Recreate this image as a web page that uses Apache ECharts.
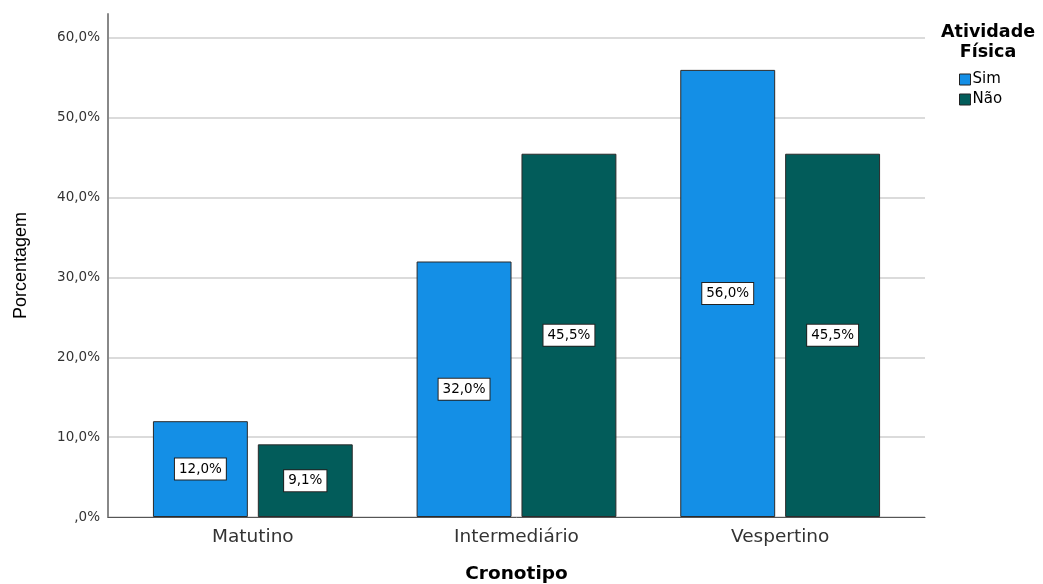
<!DOCTYPE html>
<html>
<head>
<meta charset="utf-8">
<script src="https://cdn.jsdelivr.net/npm/echarts@6/dist/echarts.min.js"></script>
<style>html,body{margin:0;padding:0;background:#fff}#c{width:1043px;height:584px}</style>
</head>
<body>
<div id="c"></div>
<script>
const categories = ['Matutino', 'Intermediário', 'Vespertino'];
const sim = [12.0, 32.0, 56.0];
const nao = [9.1, 45.5, 45.5];
const yTicks = [0, 10, 20, 30, 40, 50, 60];
const seriesNames = ['Sim', 'Não'];

const fmtPct = v => {
  const s = v.toFixed(1).replace('.', ',');
  return (s.startsWith('0,') ? s.slice(1) : s) + '%';
};

const DV = 'DejaVu Sans, Verdana, sans-serif';
const chart = echarts.init(document.getElementById('c'));
const labelStyle = {
  show: true, position: 'inside', color: '#000', fontSize: 13.5, fontFamily: DV,
  backgroundColor: '#fff', borderColor: '#222', borderWidth: 1,
  padding: [4, 4, 3, 4],
  formatter: p => fmtPct(p.value)
};
chart.setOption({
  animation: false,
  textStyle: { fontFamily: DV },
  grid: [
    { left: 108, right: 118, top: 14, bottom: 67, containLabel: false, outerBoundsMode: 'none' },
    { left: 121, right: 131, top: 14, bottom: 67, containLabel: false, outerBoundsMode: 'none' }
  ],
  xAxis: [
    { type: 'value', gridIndex: 0, min: 0, max: 1, show: true,
      axisLine: { show: true, lineStyle: { color: '#555', width: 1 } },
      axisTick: { show: false }, axisLabel: { show: false }, splitLine: { show: false } },
    { type: 'category', gridIndex: 1, data: categories,
      axisLine: { show: false }, axisTick: { show: false },
      axisLabel: { color: '#333', fontSize: 18.5, margin: 11, fontFamily: DV },
      name: 'Cronotipo', nameLocation: 'middle', nameGap: 48,
      nameTextStyle: { fontSize: 18.5, fontWeight: 'bold', color: '#000', fontFamily: DV } }
  ],
  yAxis: [
    { type: 'value', gridIndex: 0, min: 0, max: 63, interval: 10,
      axisLine: { show: true, lineStyle: { color: '#888', width: 2 } },
      axisTick: { show: false },
      axisLabel: { color: '#333', fontSize: 13.5, margin: 8, showMaxLabel: false, fontFamily: DV,
        formatter: v => yTicks.includes(v) ? fmtPct(v) : '' },
      splitLine: { show: true, showMaxLine: false, lineStyle: { color: '#cfcfcf', width: 1.5 } },
      name: 'Porcentagem', nameLocation: 'middle', nameGap: 78, nameRotate: 90,
      nameTextStyle: { fontSize: 18, color: '#000', fontFamily: 'Liberation Sans, Arial, sans-serif' } },
    { type: 'value', gridIndex: 1, min: 0, max: 63, show: false }
  ],
  legend: {
    orient: 'vertical', left: 954, top: 67, itemWidth: 11, itemHeight: 11, itemGap: 5,
    data: seriesNames,
    textStyle: { fontSize: 15, lineHeight: 15, color: '#000', fontFamily: DV, padding: [0, 0, 0, -3] },
    itemStyle: { borderColor: '#222', borderWidth: 1 },
    icon: 'rect'
  },
  graphic: [
    { type: 'text', x: 988, y: 22,
      style: { text: 'Atividade\nFísica', fill: '#000', fontSize: 17.5, fontWeight: 'bold',
        align: 'center', lineHeight: 20, fontFamily: DV } }
  ],
  series: [
    { name: 'Sim', type: 'bar', xAxisIndex: 1, yAxisIndex: 1, data: sim,
      barWidth: '36%', barGap: '10.5%',
      itemStyle: { color: '#148fe6', borderColor: '#2b2b2b', borderWidth: 1 },
      label: labelStyle },
    { name: 'Não', type: 'bar', xAxisIndex: 1, yAxisIndex: 1, data: nao,
      barWidth: '36%', barGap: '10.5%',
      itemStyle: { color: '#025c5a', borderColor: '#2b2b2b', borderWidth: 1 },
      label: labelStyle }
  ]
});
</script>
</body>
</html>
